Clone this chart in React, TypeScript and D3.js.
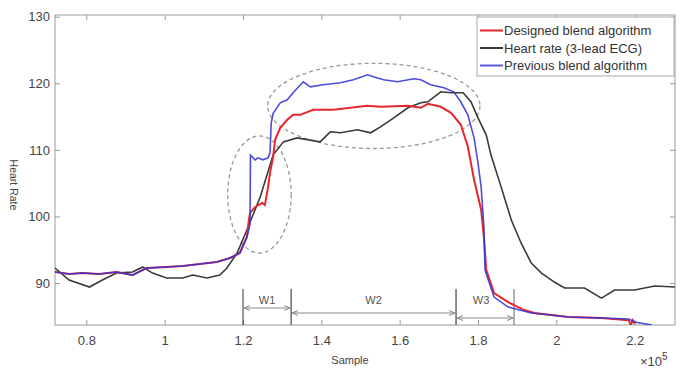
import { useEffect, useRef } from 'react';
import * as d3 from 'd3';

type Pt = [number, number];

const xTicks = [0.8, 1, 1.2, 1.4, 1.6, 1.8, 2, 2.2];
const yTicks = [90, 100, 110, 120, 130];

// shared stretch before the rise (red and blue lie on top of each other here)
const baseline: Pt[] = [
  [0.72, 91.65], [0.756, 91.35], [0.79, 91.5], [0.833, 91.35], [0.877, 91.65],
  [0.918, 91.2], [0.954, 92.26], [1.005, 92.41], [1.046, 92.56], [1.09, 92.86],
  [1.133, 93.16], [1.167, 93.76], [1.192, 94.51], [1.21, 96.92],
];

const designed: Pt[] = [
  [1.215, 99.5], [1.218, 100.53], [1.231, 101.43], [1.249, 102.03], [1.256, 101.73],
  [1.264, 104.44], [1.269, 106.54], [1.277, 108.95], [1.282, 111.5], [1.295, 113.31],
  [1.313, 114.51], [1.328, 115.26], [1.346, 115.26], [1.379, 116.02], [1.431, 116.02],
  [1.474, 116.32], [1.518, 116.62], [1.551, 116.47], [1.621, 116.62], [1.654, 116.32],
  [1.672, 116.92], [1.705, 116.47], [1.731, 115.56], [1.756, 113.8], [1.774, 110.5],
  [1.79, 105.5], [1.808, 101], [1.815, 97], [1.821, 92], [1.841, 88.5],
  [1.877, 87.14], [1.918, 85.94], [1.944, 85.49], [2.031, 84.89], [2.115, 84.74],
  [2.185, 84.4], [2.19, 83.7], [2.195, 84.4], [2.2, 83.9],
];

const previous: Pt[] = [
  [1.216, 98.3], [1.218, 99.0], [1.219, 109.2], [1.231, 108.5], [1.238, 108.8],
  [1.251, 108.5], [1.264, 108.8], [1.269, 109.55], [1.272, 114.0], [1.277, 115.5],
  [1.295, 117.07], [1.313, 117.52], [1.328, 118.57], [1.354, 120.23], [1.372, 119.47],
  [1.405, 119.77], [1.449, 120.08], [1.482, 120.53], [1.518, 121.28], [1.533, 120.98],
  [1.559, 120.53], [1.595, 120.23], [1.636, 120.68], [1.654, 120.53], [1.679, 119.77],
  [1.713, 119.32], [1.738, 118.72], [1.756, 117.22], [1.774, 115.26], [1.79, 111.8],
  [1.8, 108.05], [1.808, 104.44], [1.815, 98.42], [1.818, 91.95], [1.841, 87.89],
  [1.877, 86.39], [1.936, 85.49], [2.031, 84.89], [2.115, 84.74], [2.185, 84.59],
  [2.2, 84.14], [2.244, 83.7],
];

const ecg: Pt[] = [
  [0.72, 92.26], [0.756, 90.45], [0.808, 89.4], [0.841, 90.45], [0.877, 91.5],
  [0.918, 91.65], [0.944, 92.41], [0.969, 91.5], [1.005, 90.75], [1.046, 90.75],
  [1.072, 91.2], [1.108, 90.75], [1.141, 91.2], [1.159, 92.26], [1.185, 94.51],
  [1.21, 97.97], [1.244, 102.93], [1.277, 109.25], [1.303, 111.2], [1.338, 111.8],
  [1.397, 111.2], [1.423, 112.71], [1.449, 112.56], [1.492, 113.01], [1.526, 112.56],
  [1.551, 113.46], [1.585, 114.81], [1.621, 116.32], [1.654, 117.07], [1.672, 117.22],
  [1.705, 118.72], [1.731, 118.57], [1.762, 118.57], [1.782, 117.22], [1.8, 114.81],
  [1.821, 112.26], [1.833, 109.25], [1.859, 104.44], [1.885, 99.47], [1.91, 96.02],
  [1.936, 93.01], [1.962, 91.5], [1.995, 90.15], [2.021, 89.25], [2.072, 89.25],
  [2.115, 87.74], [2.149, 88.95], [2.2, 88.95], [2.251, 89.55], [2.303, 89.4],
];

const legendItems = [
  { label: 'Designed blend algorithm', color: '#e8262c' },
  { label: 'Heart rate (3-lead ECG)', color: '#3a3a3a' },
  { label: 'Previous blend algorithm', color: '#5b5bd8' },
];

const windows = [
  { label: 'W1', start: 1.2, end: 1.323, arrowHr: 86.25 },
  { label: 'W2', start: 1.323, end: 1.744, arrowHr: 85.5 },
  { label: 'W3', start: 1.744, end: 1.892, arrowHr: 84.75 },
];

const ellipses = [
  { cx: 1.242, cy: 103.3, rx: 0.081, ry: 8.8 },
  { cx: 1.534, cy: 116.6, rx: 0.271, ry: 6.4 },
];

export default function App() {
  const svgRef = useRef<SVGSVGElement>(null);

  useEffect(() => {
    document.body.style.margin = '0';
    const svg = d3.select(svgRef.current);
    svg.selectAll('*').remove();

    const plot = { left: 55, right: 675, top: 15, bottom: 325 };
    const x = d3.scaleLinear().domain([0.72, 2.303]).range([plot.left, plot.right]);
    const y = d3.scaleLinear().domain([83.7, 130.25]).range([plot.bottom, plot.top]);

    svg.append('rect').attr('width', 680).attr('height', 369).attr('fill', '#fff');

    const defs = svg.append('defs');
    defs.append('clipPath').attr('id', 'plot-clip')
      .append('rect')
      .attr('x', plot.left).attr('y', plot.top)
      .attr('width', plot.right - plot.left).attr('height', plot.bottom - plot.top);
    defs.append('marker')
      .attr('id', 'arr')
      .attr('viewBox', '0 0 6 6')
      .attr('refX', 6).attr('refY', 3)
      .attr('markerWidth', 6).attr('markerHeight', 6)
      .attr('markerUnits', 'userSpaceOnUse')
      .attr('orient', 'auto-start-reverse')
      .append('path')
      .attr('d', 'M0,0.5L6,3L0,5.5')
      .attr('fill', 'none').attr('stroke', '#888').attr('stroke-width', 1);

    // axes, MATLAB style: ticks inside on all four sides
    const styleAxis = (g: d3.Selection<SVGGElement, unknown, null, undefined>) => {
      g.select('.domain').remove();
      g.selectAll('.tick line').attr('stroke', '#999');
      g.selectAll('.tick text')
        .attr('fill', '#444')
        .style('font-size', '13px')
        .style('font-family', '"Liberation Sans", Arial, sans-serif');
    };

    svg.append('g')
      .attr('transform', `translate(0,${plot.bottom})`)
      .call(d3.axisBottom(x).tickValues(xTicks).tickSize(-5).tickPadding(11).tickFormat((d) => String(d)))
      .call(styleAxis);
    svg.append('g')
      .attr('transform', `translate(0,${plot.top})`)
      .call(d3.axisTop(x).tickValues(xTicks).tickSize(-5).tickFormat(() => ''))
      .call(styleAxis);
    svg.append('g')
      .attr('transform', `translate(${plot.left},0)`)
      .call(d3.axisLeft(y).tickValues(yTicks).tickSize(-5).tickPadding(5).tickFormat((d) => String(d)))
      .call(styleAxis);
    svg.append('g')
      .attr('transform', `translate(${plot.right},0)`)
      .call(d3.axisRight(y).tickValues(yTicks).tickSize(-5).tickFormat(() => ''))
      .call(styleAxis);

    svg.append('rect')
      .attr('x', plot.left).attr('y', plot.top)
      .attr('width', plot.right - plot.left).attr('height', plot.bottom - plot.top)
      .attr('fill', 'none').attr('stroke', '#999').attr('stroke-width', 1);

    // window annotations
    const ann = svg.append('g');
    windows.forEach((w, i) => {
      [w.start, w.end].forEach((v) => {
        ann.append('line')
          .attr('x1', x(v)).attr('x2', x(v))
          .attr('y1', y(89.1)).attr('y2', plot.bottom)
          .attr('stroke', v === 1.2 ? '#333' : '#666').attr('stroke-width', 1);
      });
      ann.append('line')
        .attr('x1', x(w.start) + 1).attr('x2', x(w.end) - 1)
        .attr('y1', y(w.arrowHr)).attr('y2', y(w.arrowHr))
        .attr('stroke', '#888').attr('stroke-width', 1)
        .attr('marker-start', 'url(#arr)').attr('marker-end', 'url(#arr)');
      ann.append('text')
        .attr('x', (x(w.start) + x(w.end)) / 2 + (i === 2 ? -4 : 0))
        .attr('y', y(87.45))
        .attr('dy', '0.35em')
        .attr('text-anchor', 'middle')
        .attr('fill', '#555')
        .style('font-size', '11px')
        .style('font-family', '"Liberation Sans", Arial, sans-serif')
        .text(w.label);
    });

    // dashed ellipses
    svg.append('g').selectAll('ellipse')
      .data(ellipses)
      .enter()
      .append('ellipse')
      .attr('cx', (d) => x(d.cx))
      .attr('cy', (d) => y(d.cy))
      .attr('rx', (d) => x(d.cx + d.rx) - x(d.cx))
      .attr('ry', (d) => y(d.cy - d.ry) - y(d.cy))
      .attr('fill', 'none')
      .attr('stroke', '#999')
      .attr('stroke-width', 1.3)
      .attr('stroke-dasharray', '4,3');

    // series
    const line = d3.line<Pt>().x((d) => x(d[0])).y((d) => y(d[1]));
    const lines = svg.append('g').attr('clip-path', 'url(#plot-clip)');
    lines.append('path').attr('d', line(ecg))
      .attr('fill', 'none').attr('stroke', '#3a3a3a').attr('stroke-width', 1.6);
    lines.append('path').attr('d', line(baseline.concat(designed)))
      .attr('fill', 'none').attr('stroke', '#e8262c').attr('stroke-width', 2);
    lines.append('path').attr('d', line(baseline.concat(previous)))
      .attr('fill', 'none').attr('stroke', '#3434d6').attr('stroke-width', 1.6)
      .attr('stroke-opacity', 0.88);

    // legend
    const lg = svg.append('g').attr('transform', 'translate(477,17)');
    lg.append('rect')
      .attr('width', 197).attr('height', 59)
      .attr('fill', '#fff').attr('stroke', '#aaa').attr('stroke-width', 1);
    legendItems.forEach((item, i) => {
      const cy = 13.5 + i * 17.5;
      lg.append('line')
        .attr('x1', 3).attr('x2', 26).attr('y1', cy).attr('y2', cy)
        .attr('stroke', item.color).attr('stroke-width', 2);
      lg.append('text')
        .attr('x', 27).attr('y', cy).attr('dy', '0.35em')
        .attr('fill', '#333')
        .style('font-size', '13px')
        .style('font-family', '"Liberation Sans", Arial, sans-serif')
        .text(item.label);
    });

    // axis titles
    svg.append('text')
      .attr('transform', 'translate(10,185) rotate(90)')
      .attr('text-anchor', 'middle')
      .attr('fill', '#444')
      .style('font-size', '10.5px')
      .style('font-family', '"Liberation Sans", Arial, sans-serif')
      .text('Heart Rate');
    svg.append('text')
      .attr('x', 350).attr('y', 364)
      .attr('text-anchor', 'middle')
      .attr('fill', '#444')
      .style('font-size', '11px')
      .style('font-family', '"Liberation Sans", Arial, sans-serif')
      .text('Sample');
    const exp = svg.append('text')
      .attr('x', 640).attr('y', 366)
      .attr('fill', '#444')
      .style('font-size', '13px')
      .style('font-family', '"Liberation Sans", Arial, sans-serif');
    exp.append('tspan').text('\u00d710');
    exp.append('tspan').attr('dy', -6).style('font-size', '10px').text('5');
  }, []);

  return <svg ref={svgRef} width={680} height={369} style={{ display: 'block' }} />;
}
